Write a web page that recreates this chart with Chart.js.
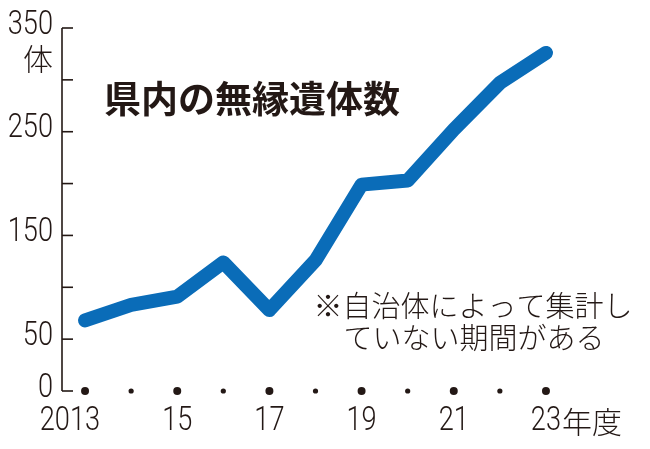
<!DOCTYPE html>
<html>
<head>
<meta charset="utf-8">
<script src="https://cdn.jsdelivr.net/npm/chart.js@4/dist/chart.umd.min.js"></script>
<style>
  html, body { margin: 0; padding: 0; background: #fff; }
  #wrap { width: 650px; height: 449px; position: relative; }
</style>
</head>
<body>
<div id="wrap"><canvas id="mainChart" width="650" height="449"></canvas></div>
<script>
// data
const years = [2013, 2014, 2015, 2016, 2017, 2018, 2019, 2020, 2021, 2022, 2023];
const bodies = [68, 83, 91, 124, 78, 126, 199, 203, 252, 297, 326];
const xLabels = ['2013', '', '15', '', '17', '', '19', '', '21', '', '23年度'];
const yTicks = [0, 50, 100, 150, 200, 250, 300, 350];
const yLabels = ['0', '50', '', '150', '', '250', '', '350'];

const title = '県内の無縁遺体数';
const note = ['※自治体によって集計し', 'ていない期間がある'];
const yUnit = '体';

const ink = '#231815';
const blue = '#0a6cb8';
const numFont = '300 34px Roboto, "Liberation Sans", sans-serif';
const jpFont = '"Noto Sans CJK JP", sans-serif';
const jpLight = '"Noto Sans CJK JP Light", "Noto Sans CJK JP DemiLight", "Noto Sans CJK JP", sans-serif';
const squeeze = 0.8;

// condensed numbers: draw with a horizontal squeeze
function narrowText(ctx, txt, x, y, align) {
  ctx.save();
  ctx.font = numFont;
  ctx.textBaseline = 'middle';
  ctx.textAlign = 'left';
  const w = ctx.measureText(txt).width * squeeze;
  let left = x;
  if (align === 'right') left = x - w;
  if (align === 'center') left = x - w / 2;
  ctx.translate(left, y);
  ctx.scale(squeeze, 1);
  ctx.fillText(txt, 0, 0);
  ctx.restore();
  return w;
}
function narrowWidth(ctx, txt) {
  ctx.save();
  ctx.font = numFont;
  const w = ctx.measureText(txt).width * squeeze;
  ctx.restore();
  return w;
}

// axis ticks, dots and texts
const decor = {
  id: 'decor',
  afterDraw(chart) {
    const ctx = chart.ctx;
    const x = chart.scales.x;
    const y = chart.scales.y;
    const axX = chart.chartArea.left;
    ctx.save();
    ctx.strokeStyle = ink;
    ctx.fillStyle = ink;
    ctx.lineWidth = 1.6;
    ctx.beginPath();
    ctx.moveTo(axX, y.getPixelForValue(350));
    ctx.lineTo(axX, y.getPixelForValue(0));
    ctx.stroke();
    yTicks.forEach(v => {
      const py = y.getPixelForValue(v);
      ctx.beginPath();
      ctx.moveTo(axX, py);
      ctx.lineTo(axX + 11, py);
      ctx.stroke();
    });

    // y labels
    yTicks.forEach((v, i) => {
      if (yLabels[i]) narrowText(ctx, yLabels[i], axX - 9, y.getPixelForValue(v) - 3, 'right');
    });
    ctx.font = '300 30px ' + jpLight;
    ctx.textAlign = 'center';
    ctx.textBaseline = 'middle';
    ctx.fillText(yUnit, 38, y.getPixelForValue(350) + 31);

    // dots and x labels
    years.forEach((yr, i) => {
      const px = x.getPixelForValue(i);
      const py = y.getPixelForValue(0);
      ctx.beginPath();
      ctx.arc(px, py, xLabels[i] ? 4 : 2.6, 0, Math.PI * 2);
      ctx.fill();
      const lab = xLabels[i];
      if (!lab) return;
      const num = lab.replace('年度', '');
      const tail = num.slice(-2);
      const left = px - narrowWidth(ctx, tail) / 2 - narrowWidth(ctx, num.slice(0, -2));
      const w = narrowText(ctx, num, left, py + 30, 'left');
      if (lab.endsWith('年度')) {
        ctx.font = '300 30px ' + jpLight;
        ctx.textAlign = 'left';
        ctx.textBaseline = 'middle';
        ctx.fillText('年度', left + w + 1, py + 31);
      }
    });

    // title and note
    ctx.font = 'bold 37px ' + jpFont;
    ctx.textAlign = 'left';
    ctx.textBaseline = 'middle';
    ctx.fillText(title, 104, 99);
    ctx.font = '300 29px ' + jpLight;
    ctx.textAlign = 'center';
    ctx.fillText(note[0], 473, 306);
    ctx.fillText(note[1], 474, 338);
    ctx.restore();
  }
};

const ctx = document.getElementById('mainChart').getContext('2d');
window.myChart = new Chart(ctx, {
  type: 'line',
  data: {
    labels: years,
    datasets: [{
      label: title,
      data: bodies,
      borderColor: blue,
      borderWidth: 14,
      borderJoinStyle: 'round',
      borderCapStyle: 'round',
      pointRadius: 0,
      tension: 0,
      clip: false
    }]
  },
  options: {
    responsive: false,
    animation: false,
    layout: { padding: { left: 62, right: 81, top: 28, bottom: 58 } },
    plugins: { legend: { display: false }, tooltip: { enabled: false } },
    scales: {
      x: { display: false, offset: true },
      y: { display: false, min: 0, max: 350 }
    }
  },
  plugins: [decor]
});
</script>
</body>
</html>
